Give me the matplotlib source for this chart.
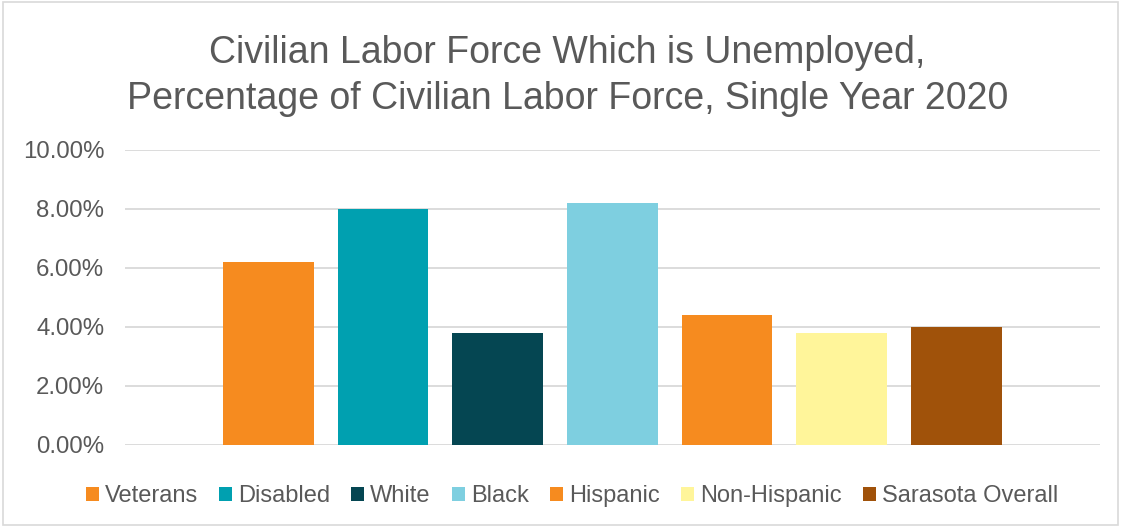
import matplotlib
matplotlib.use("Agg")
from matplotlib import pyplot as plt
from matplotlib.patches import Rectangle
from matplotlib.ticker import FuncFormatter

groups = ["Veterans", "Disabled", "White", "Black", "Hispanic", "Non-Hispanic", "Sarasota Overall"]
rates = [6.2, 8.0, 3.8, 8.2, 4.4, 3.8, 4.0]
colors = ["#F68B1F", "#00A0B0", "#054652", "#7ECFE0", "#F68B1F", "#FFF59A", "#A0520A"]

plt.rcParams["font.family"] = ["Liberation Sans", "DejaVu Sans"]

fig = plt.figure(figsize=(11.21, 5.27), dpi=100)
ax = fig.add_axes([0.1115, 0.1556, 0.8695, 0.5598])

# one series per group, like the excel original
for i, (g, v, c) in enumerate(zip(groups, rates, colors)):
    ax.bar(i, v, width=0.79, color=c, label=g, zorder=3)

ax.set_xlim(-1.25, 7.25)
ax.set_ylim(0, 10)
ax.set_yticks([0, 2, 4, 6, 8, 10])
ax.yaxis.set_major_formatter(FuncFormatter(lambda y, _: f"{y:.2f}%"))
ax.set_xticks([])
ax.grid(axis="y", color="#D9D9D9", linewidth=1.3, zorder=0)
for s in ax.spines.values():
    s.set_visible(False)
ax.tick_params(axis="y", length=0, labelsize=17.3, labelcolor="#595959", pad=15)

fig.text(0.506, 0.856, "Civilian Labor Force Which is Unemployed,\nPercentage of Civilian Labor Force, Single Year 2020",
         ha="center", va="center", fontsize=27, color="#595959", linespacing=1.38)

fig.legend(loc="center", bbox_to_anchor=(0.51, 0.058), ncol=7, frameon=False,
           fontsize=17, labelcolor="#595959", handlelength=0.55, handleheight=0.55,
           handletextpad=0.25, columnspacing=0.9)

fig.patches.append(Rectangle((0.003, 0.003), 0.994, 0.994, transform=fig.transFigure,
                             fill=False, edgecolor="#D9D9D9", linewidth=1.2))

fig.savefig("out.png", dpi=100)
